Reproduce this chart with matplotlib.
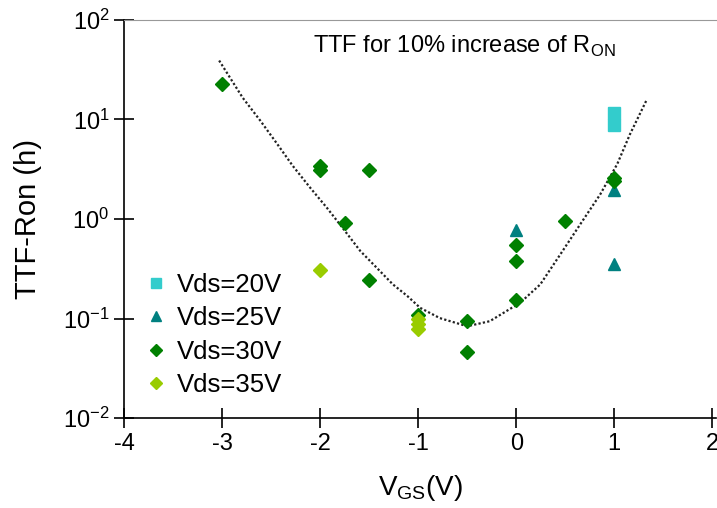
import matplotlib
matplotlib.use("Agg")
import matplotlib.pyplot as plt

plt.rcParams['font.family'] = ['Liberation Sans', 'DejaVu Sans']
plt.rcParams['axes.unicode_minus'] = False
plt.rcParams['mathtext.fontset'] = 'custom'
plt.rcParams['mathtext.rm'] = 'Liberation Sans'

# Vds=20V
vgs_20 = [1, 1]
ttf_20 = [11.6, 8.8]
# Vds=25V
vgs_25 = [0, 1, 1]
ttf_25 = [0.78, 1.95, 0.35]
# Vds=30V
vgs_30 = [-3, -2, -2, -1.5, -1.75, -1.5, -1, -0.5, -0.5, 0, 0, 0, 0.5, 1, 1]
ttf_30 = [22.7, 3.4, 3.1, 3.1, 0.91, 0.244, 0.108, 0.095, 0.046, 0.55, 0.38, 0.153, 0.95, 2.6, 2.4]
# Vds=35V
vgs_35 = [-2, -1, -1, -1]
ttf_35 = [0.31, 0.098, 0.088, 0.078]

# trend line
fit_x = [-3.03, -2.79, -2.61, -2.44, -2.28, -2.10, -1.93, -1.77, -1.59, -1.42, -1.26, -1.11,
         -0.98, -0.78, -0.50, -0.27, 0.04, 0.245, 0.449, 0.653, 0.857, 1.03, 1.16, 1.33]
fit_y = [39, 16.5, 9.7, 5.7, 3.42, 2.05, 1.29, 0.81, 0.476, 0.321, 0.221, 0.168,
         0.128, 0.101, 0.0836, 0.094, 0.144, 0.22, 0.44, 0.885, 1.77, 3.56, 7.1, 15.7]

fig = plt.figure(figsize=(7.17, 5.08), dpi=100)
ax = fig.add_axes([0.173, 0.177, 0.826, 0.784])

ax.plot(fit_x, fit_y, linestyle=(0, (1, 1)), color='#222222', lw=1.6, zorder=1)
ax.plot(vgs_20, ttf_20, 's', color='#33CCCC', ms=8, ls='none', label='Vds=20V', zorder=3)
ax.plot(vgs_25, ttf_25, '^', color='#008080', ms=8, ls='none', label='Vds=25V', zorder=3)
ax.plot(vgs_30, ttf_30, 'D', color='#008000', ms=7, ls='none', label='Vds=30V', zorder=3)
ax.plot(vgs_35, ttf_35, 'D', color='#99CC00', ms=7, ls='none', label='Vds=35V', zorder=3)

ax.set_yscale('log')
ax.set_xlim(-4, 2.04)
ax.set_ylim(0.01, 100)
ax.set_xticks([-4, -3, -2, -1, 0, 1, 2])
ax.set_yticks([0.01, 0.1, 1, 10, 100])
ax.minorticks_off()
ax.tick_params(axis='both', which='major', direction='inout', length=15, width=1.2,
               labelsize=17, pad=3)

ax.spines['top'].set_color('#999999')
ax.spines['right'].set_visible(False)
ax.spines['left'].set_linewidth(1.2)
ax.spines['bottom'].set_linewidth(1.2)

ax.set_xlabel('V$_{\\mathregular{GS}}$(V)', fontsize=20, labelpad=13)
ax.set_ylabel('TTF-Ron (h)', fontsize=21, labelpad=15)

ax.text(0.319, 0.917, 'TTF for 10% increase of R$_{\\mathregular{ON}}$', transform=ax.transAxes,
        fontsize=17, va='baseline', ha='left')

ax.legend(loc='upper left', bbox_to_anchor=(0.015, 0.39), borderaxespad=0, frameon=False,
          fontsize=18.5, handletextpad=0.32, labelspacing=0.36, handlelength=1.0,
          markerscale=0.9)

fig.savefig('out.png', dpi=100)
